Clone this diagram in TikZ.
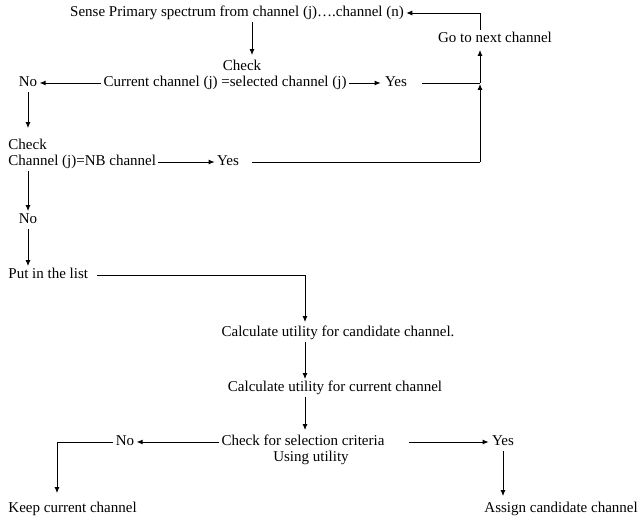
\documentclass[tikz,border=0pt]{standalone}
\usepackage{fontspec}
\setmainfont{Liberation Serif}
\usetikzlibrary{arrows.meta}

\tikzset{every path/.style={line width=.9pt}}
\tikzset{arr/.style={-{Latex[length=6pt,width=5pt]}}}
\tikzset{lbl/.style={inner sep=2pt, text height=10pt, text depth=3pt, font=\fontsize{15}{16}\selectfont}}

\begin{document}
\begin{tikzpicture}[x=1pt,y=-1pt]
\useasboundingbox (0,0) rectangle (640,516);

\node[lbl] (sense) at (237,13) {Sense Primary spectrum from channel (j)….channel (n)};
\node[lbl] (next) at (495,39) {Go to next channel};
\node[lbl] (chk1) at (242,67) {Check};
\node[lbl] (cur) at (225,83) {Current channel (j) =selected channel (j)};
\node[lbl] (yes1) at (396,83) {Yes};
\node[lbl] (no1) at (28,83) {No};
\node[lbl,anchor=west] (chk2) at (6,146) {Check};
\node[lbl,anchor=west] (nb) at (6,162) {Channel (j)=NB channel};
\node[lbl] (yes2) at (228,162) {Yes};
\node[lbl] (no2) at (28,220) {No};
\node[lbl,anchor=west] (list) at (6,275) {Put in the list};
\node[lbl] (cand) at (338,333) {Calculate utility for candidate channel.};
\node[lbl] (curu) at (335,388) {Calculate utility for current channel};
\node[lbl] (crit) at (303,442) {Check for selection criteria};
\node[lbl] (util) at (311,458) {Using utility};
\node[lbl] (no3) at (125,442) {No};
\node[lbl] (yes3) at (503,442) {Yes};
\node[lbl,anchor=west] (keep) at (6,509) {Keep current channel};
\node[lbl,anchor=west] (assign) at (482,509) {Assign candidate channel};

\coordinate (j1) at (480,83);
\coordinate (j2) at (480,162);
\coordinate (spine) at (305,0);
\coordinate (kc) at (57,442);

\draw[arr,shorten >=3pt] ([xshift=15pt]sense.south) -- ([xshift=10pt]chk1.north);
\draw[arr,shorten >=2pt] (cur.east) -- (yes1.west);
\draw[arr] (cur.west) -- (no1.east);
\draw[shorten <=13pt] (yes1.east) -- (j1);
\draw[shorten <=11pt] (yes2.east) -- (j2);
\draw[arr,shorten >=1pt] (j2) -- (j1);
\draw[arr,shorten >=2pt] (j1) -- (j1 |- next.south);
\draw[arr] (j1 |- next.north) -- (j1 |- sense.east) -- (sense.east);
\draw[arr,shorten >=9pt] (no1.south) -- (no1.south |- chk2.north);
\draw[arr] (nb.east) -- (yes2.west);
\draw[arr] (nb.south -| no2) -- (no2.north);
\draw[arr] (no2.south) -- (no2 |- list.north);
\draw[arr,shorten <=7pt,shorten >=2pt] (list.east) -- (list.east -| spine) -- (cand.north -| spine);
\draw[arr] (cand.south -| spine) -- (curu.north -| spine);
\draw[arr,shorten >=3pt] (curu.south -| spine) -- (crit.north -| spine);
\draw[arr] (crit.west) -- (no3.east);
\draw[arr,shorten >=7pt] (no3.west) -- (kc) -- (kc |- keep.north);
\draw[arr,shorten <=22pt,shorten >=1pt] (crit.east) -- (yes3.west);
\draw[arr,shorten >=4pt] (yes3.south) -- (yes3.south |- assign.north);
\end{tikzpicture}
\end{document}
